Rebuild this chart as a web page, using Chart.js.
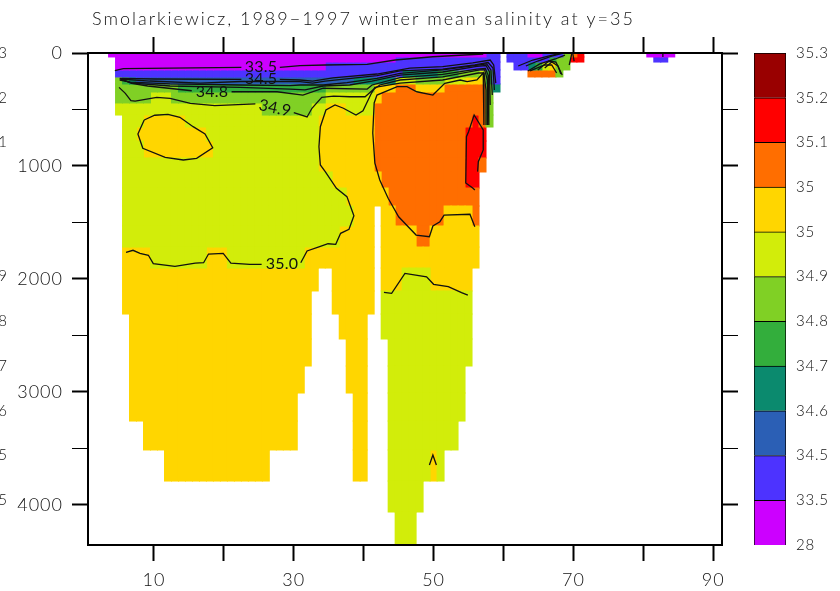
<!DOCTYPE html>
<html>
<head>
<meta charset="utf-8">
<style>
  html, body { margin: 0; padding: 0; background: #fff; overflow: hidden; }
  #wrap { position: relative; width: 840px; height: 591px; overflow: hidden; }
  #main { position: absolute; left: 0; top: 0; }
  #bar { position: absolute; left: 744px; top: 0; }
</style>
<script src="https://cdn.jsdelivr.net/npm/chart.js@4/dist/chart.umd.min.js"></script>
</head>
<body>
<div id="wrap">
  <canvas id="main" width="840" height="591"></canvas>
  <canvas id="bar" width="96" height="591"></canvas>
</div>
<script>
const titleText = 'Smolarkiewicz, 1989\u22121997 winter mean salinity at y=35';
const fontFamily = 'Lato';

// colour classes a..k, bottom to top of the colour bar
const classKeys = ['a', 'b', 'c', 'd', 'e', 'f', 'g', 'h', 'i', 'j', 'k'];
const classColors = ['#cc00ff', '#4d33ff', '#2b5fb5', '#0b8a6e', '#33ae3c', '#80d025',
  '#d2ed0a', '#ffd600', '#ff6e00', '#ff0000', '#990000'];
const barLabels = ['28', '33.5', '34.5', '34.6', '34.7', '34.8', '34.9', '35', '35', '35.1', '35.2', '35.3'];
const barCounts = [1, 1, 1, 1, 1, 1, 1, 1, 1, 1, 1];

// depth of the model level edges
const levelEdges = [0, 35, 80, 150, 212, 274, 345, 442, 549, 655, 779, 929, 1053, 1195, 1354,
  1531, 1717, 1903, 2106, 2310, 2531, 2770, 3009, 3257, 3513, 3788, 4062, 4354];

// one string per level: class letter + column range
const levelRuns = [
  'a4-57 b58-59 b61-63 a64-65 b66-68 f69 i70 j71 a81-84',
  'a5-44 b45-59 b61-66 e67 f68-69 j70-71 b82-83',
  'a5-34 b35-59 b62-63 d64 e65 g66 h67 f68-69',
  'b5-45 d46-50 e51-53 f54-56 g57 e58 b59 i64-67 f68',
  'f5 e6 d7 c8-38 d39-44 g45-47 f48-51 g52-54 h55-57 e58 b59',
  'f5-13 e14-34 f35-41 h42-44 i45-47 h48-51 i52-57 f58 d59',
  'f5-9 g10-12 f13-34 g35-41 h42 i43-57 f58',
  'g5-25 f26-32 g33-34 h35-37 g38-41 i42-57 f58',
  'g6-8 h9-14 g15-33 h34-41 i42-55 j56 i57 f58',
  'g6-7 h8-17 g18-33 h34-41 i42-54 j55-57',
  'g6-8 h9-18 g19-33 h34-41 i42-54 j55-57',
  'g6-33 h34-41 i42-54 j55-56 i57',
  'g6-35 h36-42 i43-54 j55-56',
  'g6-37 h38-43 i44-56',
  'g6-38 h39-41 h43-44 i45-51 h52-55 i56',
  'g6-36 h37-41 h43-47 i48-49 h50-56',
  'h6-9 g10-17 h18-20 g21-31 h32-41 h43-56',
  'h6-33 h36-41 h43-45 g46-49 h50-55',
  'h6-32 h36-41 g43-55',
  'h7-32 h37-40 g43-55',
  'h7-32 h38-40 g44-55',
  'h7-31 h38-40 g44-54',
  'h7-30 h39-40 g44-54',
  'h9-30 h39-40 g44-53',
  'h12-26 h39-40 g44-49 h50 g51',
  'g44-48',
  'g45-47'
];

// contour lines as [x, depth]
const c335a = [[4.4,157],[5.6,139],[22.5,127]];
const c335b = [[28.0,127],[30.9,112],[34.5,106],[40.5,100],[44.5,62],[49.9,33],[57.1,9]];
const c345a = [[5.1,224],[10.1,230],[22.5,233]];
const c345b = [[28.0,233],[30.9,239],[32.7,248],[35.6,220],[41.9,186],[46.6,133],[51.3,121],[55.6,88],[58.1,62],[58.6,106],[58.9,266]];
const c346 = [[5.1,230],[9.4,248],[16.6,266],[22.4,252],[27.9,252],[30.9,254],[32.7,266],[34.5,248],[41.9,201],[45.2,159],[51.3,142],[55.9,106],[57.8,84],[58.5,133],[58.7,327]];
const c347 = [[5.1,239],[6.6,257],[12.3,274],[22.3,283],[29.5,288],[30.9,283],[34.2,283],[37.6,263],[41.9,224],[45.2,180],[51.3,150],[56.6,106],[57.6,97],[58.2,150],[58.4,372]];
const c3475 = [[5.3,235],[6.9,266],[12.3,292],[22.3,305],[29.5,319],[31.6,327],[34.2,292],[38.0,283],[41.2,248],[45.2,195],[51.3,168],[56.2,119],[57.5,111],[58.0,168],[58.1,460]];
const c348a = [[5.3,230],[6.8,268],[9.1,292],[15.4,334]];
const c348b = [[21.1,343],[27.6,343],[31.3,372],[34.2,312],[40.5,319],[41.2,283],[45.2,217],[51.3,190],[56.2,142],[57.4,137],[57.8,195],[57.9,637]];
const c349a = [[5.0,304],[5.9,357],[6.7,422],[7.3,425],[10.4,392],[12.3,401],[15.2,445],[18.7,466],[24.5,451]];
const c349b = [[30.0,528],[31.9,566],[32.6,489],[34.0,392],[35.7,381],[38.0,387],[40.2,387],[41.3,327],[42.3,283],[45.2,239],[51.3,212],[56.6,150],[57.3,150],[57.7,239],[57.7,637]];
const c350a = [[6.0,1764],[7.0,1746],[8.0,1773],[9.2,1790],[9.9,1864],[13.0,1888],[15.9,1859],[17.1,1856],[17.8,1779],[19.9,1773],[21.0,1859],[23.7,1870],[25.4,1870]];
const c350b = [[31.0,1856],[31.9,1752],[33.7,1714],[34.9,1688],[36.0,1693],[36.7,1596],[37.9,1560],[38.6,1440],[37.6,1271],[36.1,1197],[34.5,1050],[33.8,991],[33.6,829],[33.8,652],[34.6,504],[35.9,460],[37.1,489],[38.9,549],[39.9,511],[41.1,357],[41.6,304],[45.2,266],[51.3,239],[56.4,177],[57.2,177],[57.5,327],[57.5,637]];
const c351 = [[55.9,1537],[55.2,1427],[51.5,1434],[50.9,1493],[49.9,1531],[49.4,1626],[47.5,1611],[45.0,1449],[43.5,1286],[42.3,1124],[41.6,974],[41.3,708],[41.5,442],[41.9,372],[44.8,298],[46.2,298],[47.6,343],[49.9,372],[51.6,268],[53.8,239],[54.8,254],[56.2,239],[57.1,177],[57.2,637]];
const cBlob = [[8.6,593],[10.1,551],[12.0,543],[13.7,569],[15.6,652],[17.3,717],[18.4,838],[16.1,932],[14.2,947],[11.6,923],[8.4,843],[7.7,717],[8.6,593]];
const cDeep = [[42.9,2118],[44.0,2127],[45.9,1950],[49.0,1980],[50.0,2047],[52.1,2068],[54.0,2121],[54.9,2142]];
const cRed = [[55.9,1212],[55.6,1195],[54.6,1150],[54.7,741],[55.0,696],[55.8,549],[57.1,681],[57.1,858],[56.4,962],[56.3,1050]];
const cCaret = [[49.4,3646],[49.9,3558],[50.4,3646]];
const cP1 = [[62.1,115],[64.2,62],[66.4,27],[68.1,4]];
const cP2 = [[63.2,115],[64.9,71],[66.9,27],[68.4,4]];
const cP3 = [[63.5,159],[65.2,97],[67.4,53],[68.8,18]];
const cP4 = [[63.8,159],[65.9,106],[66.9,106],[67.6,177]];
const cP5 = [[65.9,133],[66.9,80],[67.8,115],[68.2,186]];
const cP6 = [[64.9,150],[66.5,71],[67.5,80],[68.4,195]];
const cP7 = [[69.4,106],[69.8,0]];
const cP8 = [[69.9,0],[70.1,71]];
const cP9 = [[82.8,0],[82.8,35]];
const contours = [c335a, c335b, c345a, c345b, c346, c347, c3475, c348a, c348b, c349a, c349b,
  c350a, c350b, c351, cBlob, cDeep, cRed, cCaret, cP1, cP2, cP3, cP4, cP5, cP6, cP7, cP8, cP9];

const labelTexts = ['33.5', '34.5', '34.8', '34.9', '35.0'];
const labelX = [25.3, 25.3, 18.3, 27.3, 28.3];
const labelDepth = [124, 233, 345, 487, 1867];
const labelAngle = [0, 0, 0, 12, 0];

const xTickValues = [10, 20, 30, 40, 50, 60, 70, 80, 90];
const xTicksShown = [10, 30, 50, 70, 90];
const depthTickValues = [0, 500, 1000, 1500, 2000, 2500, 3000, 3500, 4000];
const depthTicksShown = [0, 1000, 2000, 3000, 4000];

const textColor = '#111';
const tickFont = { family: fontFamily, size: 18, weight: '300' };
const barFont = { family: fontFamily, size: 15, weight: '300' };

// turn the level strings into floating bars, one dataset per colour class
const cellsByClass = {};
classKeys.forEach(k => { cellsByClass[k] = []; });
levelRuns.forEach((runs, level) => {
  runs.split(' ').forEach(run => {
    const key = run[0];
    const parts = run.slice(1).split('-').map(Number);
    const last = parts.length > 1 ? parts[1] : parts[0];
    for (let col = parts[0]; col <= last; col++) {
      cellsByClass[key].push({ x: col, y: [levelEdges[level], levelEdges[level + 1]] });
    }
  });
});

const barDatasets = classKeys.map((k, i) => ({
  type: 'bar',
  data: cellsByClass[k],
  backgroundColor: classColors[i],
  borderWidth: 0,
  inflateAmount: 0.5,
  grouped: false,
  barPercentage: 1,
  categoryPercentage: 1,
  order: 2
}));

const lineDatasets = contours.map(pts => ({
  type: 'line',
  data: pts.map(p => ({ x: p[0], y: p[1] })),
  borderColor: '#111',
  borderWidth: 1.3,
  pointRadius: 0,
  tension: 0,
  fill: false,
  order: 1
}));

// letter spacing has no chart option, so it is set on the context before each draw
const spacingPlugin = {
  id: 'spacing',
  beforeDraw(chart) {
    chart.ctx.letterSpacing = chart.canvas.id === 'bar' ? '0.8px' : '1px';
  }
};

// colour bar
const barChart = new Chart(document.getElementById('bar'), {
  type: 'bar',
  data: {
    labels: [''],
    datasets: barCounts.map((n, i) => ({
      data: [n],
      backgroundColor: classColors[i],
      borderColor: '#000',
      borderWidth: 1,
      barPercentage: 1,
      categoryPercentage: 1
    }))
  },
  options: {
    responsive: false,
    animation: false,
    layout: { padding: { left: 10, top: 53, bottom: 46, right: 0 } },
    plugins: { legend: { display: false }, tooltip: { enabled: false } },
    scales: {
      x: { stacked: true, display: false },
      y: {
        stacked: true,
        position: 'right',
        min: 0,
        max: barCounts.length,
        afterFit(scale) { scale.width = 54; },
        border: { display: false },
        grid: { display: false },
        ticks: {
          stepSize: 1,
          autoSkip: false,
          padding: 2,
          color: textColor,
          font: barFont,
          callback: v => barLabels[v]
        }
      }
    }
  },
  plugins: [spacingPlugin]
});

const annotatePlugin = {
  id: 'annotate',
  afterDraw(chart) {
    const ctx = chart.ctx;
    const sx = chart.scales.x;
    const sy = chart.scales.y;
    ctx.save();
    ctx.fillStyle = textColor;
    ctx.textBaseline = 'middle';

    // title
    ctx.font = '300 18px ' + fontFamily;
    ctx.letterSpacing = '2px';
    ctx.textAlign = 'left';
    ctx.fillText(titleText, 92, 19);

    // the colour bar labels of the neighbouring panel, cut off by the page edge
    ctx.font = '300 15px ' + fontFamily;
    ctx.letterSpacing = '0.8px';
    barLabels.forEach((t, i) => {
      ctx.fillText(t, -25, barChart.scales.y.getPixelForValue(i));
    });

    // contour labels
    ctx.font = '400 16px ' + fontFamily;
    ctx.letterSpacing = '0.2px';
    ctx.textAlign = 'center';
    labelTexts.forEach((t, i) => {
      ctx.save();
      ctx.translate(sx.getPixelForValue(labelX[i]), sy.getPixelForValue(labelDepth[i]));
      ctx.rotate(labelAngle[i] * Math.PI / 180);
      ctx.fillText(t, 0, 0);
      ctx.restore();
    });
    ctx.restore();
  }
};

const axisBorder = { display: true, color: '#000', width: 2, z: 1 };
const tickGrid = {
  offset: false,
  drawOnChartArea: false,
  drawTicks: true,
  tickLength: 16,
  tickColor: '#000',
  tickWidth: 2,
  z: 1
};
const yTickGrid = Object.assign({}, tickGrid, {
  tickWidth: c => (c.tick && c.tick.value % 1000 === 0 ? 2 : 1)
});
const xMin = 0.56, xMax = 91.26, yMax = 4354;
const setXTicks = scale => { scale.ticks = xTickValues.map(v => ({ value: v })); };
const setDepthTicks = scale => { scale.ticks = depthTickValues.map(v => ({ value: v })); };

new Chart(document.getElementById('main'), {
  data: { datasets: barDatasets.concat(lineDatasets) },
  options: {
    responsive: false,
    animation: false,
    plugins: { legend: { display: false }, tooltip: { enabled: false } },
    layout: { padding: 0 },
    scales: {
      x: {
        type: 'linear',
        position: 'bottom',
        min: xMin,
        max: xMax,
        offset: false,
        afterBuildTicks: setXTicks,
        afterFit(scale) { scale.height = 46; },
        border: axisBorder,
        grid: tickGrid,
        ticks: {
          autoSkip: false,
          maxRotation: 0,
          padding: 8,
          color: textColor,
          font: tickFont,
          callback: v => (xTicksShown.includes(v) ? String(v) : '')
        }
      },
      xTop: {
        type: 'linear',
        position: 'top',
        min: xMin,
        max: xMax,
        offset: false,
        afterBuildTicks: setXTicks,
        afterFit(scale) { scale.height = 53; },
        border: axisBorder,
        grid: tickGrid,
        ticks: { autoSkip: false, display: false }
      },
      y: {
        type: 'linear',
        position: 'left',
        reverse: true,
        min: 0,
        max: yMax,
        afterBuildTicks: setDepthTicks,
        afterFit(scale) { scale.width = 88; },
        border: axisBorder,
        grid: yTickGrid,
        ticks: {
          autoSkip: false,
          padding: 9,
          color: textColor,
          font: tickFont,
          callback: v => (depthTicksShown.includes(v) ? String(v) : '')
        }
      },
      yRight: {
        type: 'linear',
        position: 'right',
        reverse: true,
        min: 0,
        max: yMax,
        afterBuildTicks: setDepthTicks,
        afterFit(scale) { scale.width = 118; },
        border: axisBorder,
        grid: yTickGrid,
        ticks: { autoSkip: false, display: false }
      }
    }
  },
  plugins: [spacingPlugin, annotatePlugin]
});
</script>
</body>
</html>
